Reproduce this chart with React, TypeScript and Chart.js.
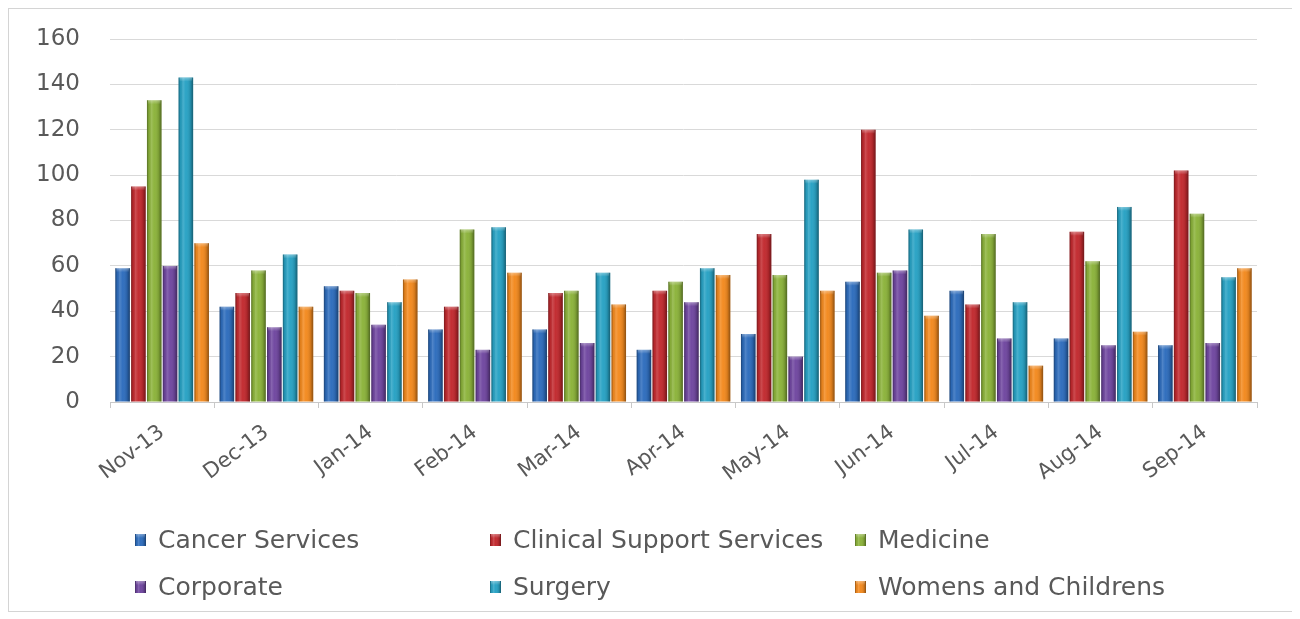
import React, { useEffect, useRef } from "react";
import { Chart, registerables } from "chart.js";

Chart.register(...registerables);

// Monthly counts per division
const months = ["Nov-13", "Dec-13", "Jan-14", "Feb-14", "Mar-14", "Apr-14", "May-14", "Jun-14", "Jul-14", "Aug-14", "Sep-14"];
const cancerServices = [59, 42, 51, 32, 32, 23, 30, 53, 49, 28, 25];
const clinicalSupportServices = [95, 48, 49, 42, 48, 49, 74, 120, 43, 75, 102];
const medicine = [133, 58, 48, 76, 49, 53, 56, 57, 74, 62, 83];
const corporate = [60, 33, 34, 23, 26, 44, 20, 58, 28, 25, 26];
const surgery = [143, 65, 44, 77, 57, 59, 98, 76, 44, 86, 55];
const womensAndChildrens = [70, 42, 54, 57, 43, 56, 49, 38, 16, 31, 59];

const yMin = 0;
const yMax = 160;
const yStep = 20;

const seriesNames = [
  "Cancer Services",
  "Clinical Support Services",
  "Medicine",
  "Corporate",
  "Surgery",
  "Womens and Childrens",
];
const seriesValues = [cancerServices, clinicalSupportServices, medicine, corporate, surgery, womensAndChildrens];
const seriesColors = ["#2e6dbd", "#c22a2f", "#8cb33b", "#7047a0", "#28a2c4", "#f38a1f"];

const FONT = "'DejaVu Sans', sans-serif";
const TEXT_GREY = "#595959";

// Cylinder-like shading laid over a rectangle
function shadeRect(ctx: CanvasRenderingContext2D, left: number, top: number, w: number, h: number) {
  if (w <= 0 || h <= 0) return;
  const g = ctx.createLinearGradient(left, 0, left + w, 0);
  g.addColorStop(0, "rgba(0,0,0,0.38)");
  g.addColorStop(0.14, "rgba(0,0,0,0.05)");
  g.addColorStop(0.3, "rgba(255,255,255,0.16)");
  g.addColorStop(0.5, "rgba(255,255,255,0.02)");
  g.addColorStop(0.8, "rgba(0,0,0,0.12)");
  g.addColorStop(1, "rgba(0,0,0,0.42)");
  ctx.fillStyle = g;
  ctx.fillRect(left, top, w, h);
  const capH = Math.min(4, h);
  const cg = ctx.createLinearGradient(0, top, 0, top + capH);
  cg.addColorStop(0, "rgba(255,255,255,0.35)");
  cg.addColorStop(1, "rgba(255,255,255,0)");
  ctx.fillStyle = cg;
  ctx.fillRect(left + 1, top, w - 2, capH);
}

const barShading = {
  id: "barShading",
  afterDatasetsDraw(chart: any) {
    const ctx = chart.ctx as CanvasRenderingContext2D;
    ctx.save();
    chart.data.datasets.forEach((_: any, di: number) => {
      const meta = chart.getDatasetMeta(di);
      if (meta.hidden) return;
      meta.data.forEach((el: any) => {
        const p = el.getProps(["x", "y", "base", "width"], true);
        shadeRect(ctx, p.x - p.width / 2, Math.min(p.y, p.base), p.width, Math.abs(p.base - p.y));
      });
    });
    ctx.restore();
  },
};

// Three-column legend below the axis
const gridLegend = {
  id: "gridLegend",
  afterDraw(chart: any, _args: any, opts: any) {
    const ctx = chart.ctx as CanvasRenderingContext2D;
    const cols: number[] = opts.columns;
    const rows: number[] = opts.rows;
    ctx.save();
    ctx.font = `${opts.fontSize}px ${FONT}`;
    ctx.textBaseline = "middle";
    ctx.textAlign = "left";
    chart.data.datasets.forEach((ds: any, i: number) => {
      const x = cols[i % cols.length];
      const y = rows[Math.floor(i / cols.length)];
      const bw = 11;
      const bh = 12;
      ctx.fillStyle = ds.backgroundColor;
      ctx.fillRect(x, y - bh / 2, bw, bh);
      shadeRect(ctx, x, y - bh / 2, bw, bh);
      ctx.fillStyle = TEXT_GREY;
      ctx.fillText(ds.label, x + bw + 12, y + 1);
    });
    ctx.restore();
  },
};

export default function App() {
  const canvasRef = useRef<HTMLCanvasElement | null>(null);

  useEffect(() => {
    if (!canvasRef.current) return;
    const chart = new Chart(canvasRef.current, {
      type: "bar",
      data: {
        labels: months,
        datasets: seriesNames.map((name, i) => ({
          label: name,
          data: seriesValues[i],
          backgroundColor: seriesColors[i],
          borderWidth: 0,
          categoryPercentage: 0.91,
          barPercentage: 0.92,
        })),
      },
      options: {
        animation: false,
        responsive: true,
        maintainAspectRatio: false,
        layout: { padding: { top: 30, right: 36, left: 0, bottom: 0 } },
        plugins: {
          legend: { display: false },
          tooltip: { enabled: false },
          gridLegend: {
            columns: [126, 481, 846],
            rows: [531, 578],
            fontSize: 25,
          },
        } as any,
        scales: {
          x: {
            grid: {
              drawOnChartArea: false,
              drawTicks: true,
              tickLength: 6,
              color: "#c8c8c8",
              offset: true,
            },
            border: { display: true, color: "#c8c8c8" },
            ticks: {
              color: TEXT_GREY,
              font: { family: FONT, size: 21 },
              minRotation: 37,
              maxRotation: 37,
              padding: 12,
              autoSkip: false,
            },
            afterFit: (scale: any) => {
              scale.height = 209;
            },
          },
          y: {
            min: yMin,
            max: yMax,
            grid: {
              color: "#d9d9d9",
              drawTicks: true,
              tickLength: 26,
              tickColor: "rgba(0,0,0,0)",
            },
            border: { display: false },
            ticks: {
              stepSize: yStep,
              color: TEXT_GREY,
              font: { family: FONT, size: 23 },
              padding: 4,
            },
            afterFit: (scale: any) => {
              scale.width = 101;
            },
          },
        },
      },
      plugins: [barShading, gridLegend],
    });
    return () => chart.destroy();
  }, []);

  return (
    <div
      style={{
        width: 1286,
        height: 604,
        boxSizing: "border-box",
        border: "1px solid #d4d4d4",
        background: "#ffffff",
        position: "relative",
      }}
    >
      <canvas ref={canvasRef} />
    </div>
  );
}
